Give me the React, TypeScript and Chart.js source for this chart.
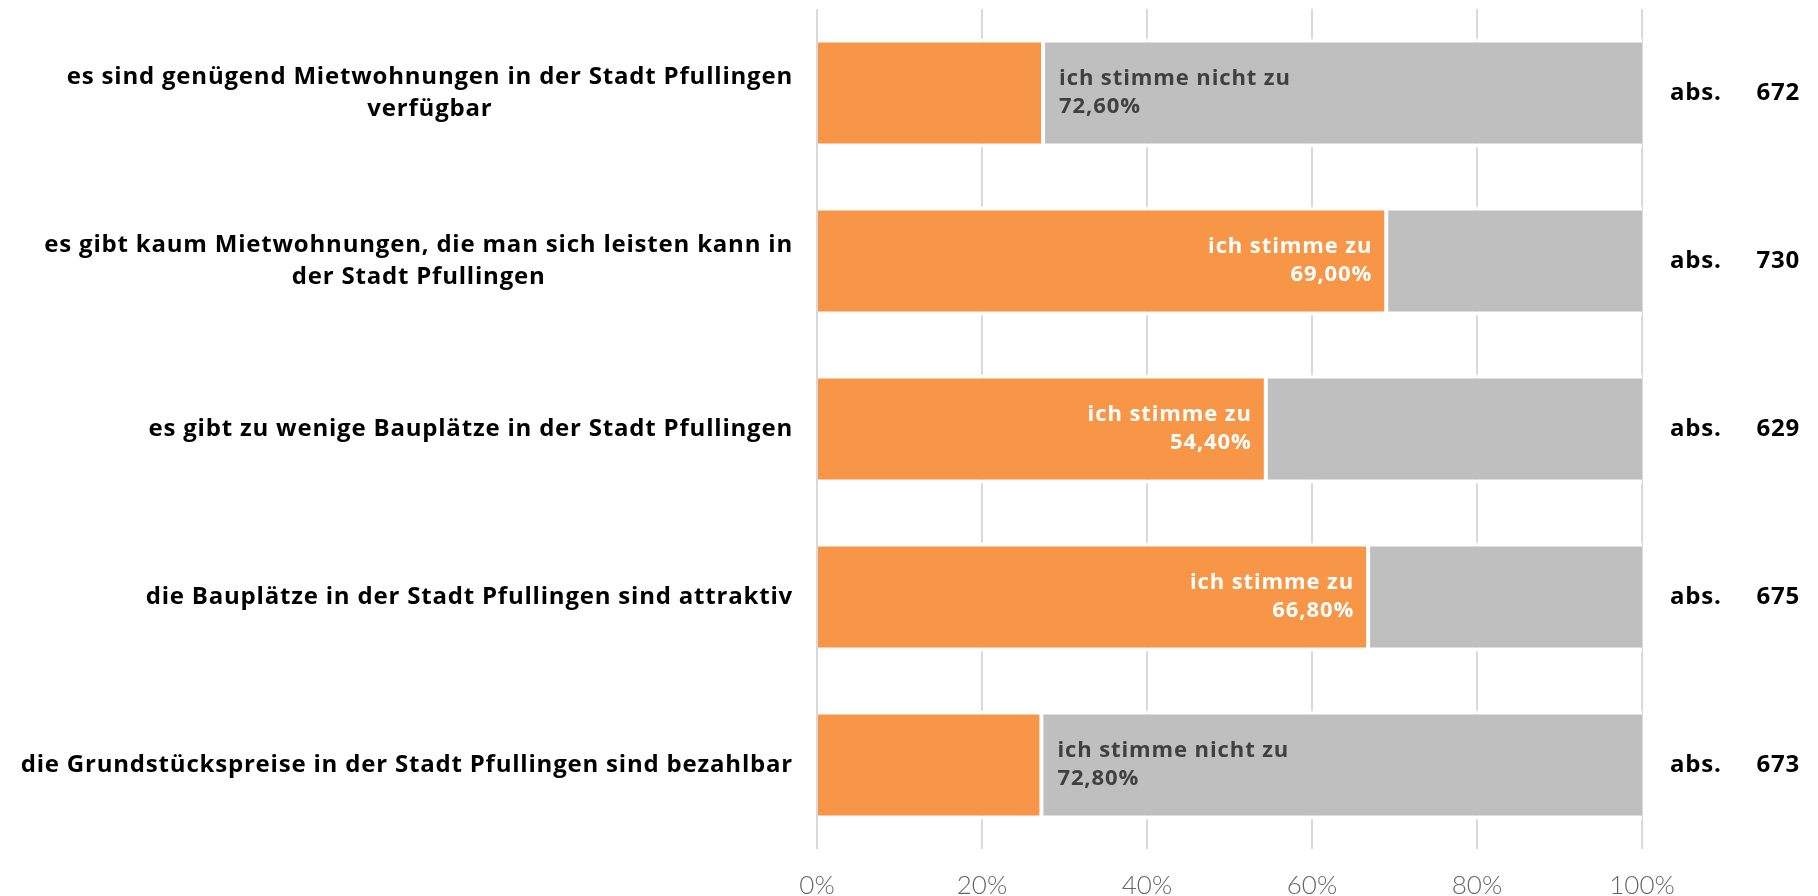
import React, { useEffect, useRef } from "react";
import { Chart, registerables } from "chart.js";

Chart.register(...registerables);

const categories: string[][] = [
  ["es sind genügend Mietwohnungen in der Stadt Pfullingen", "verfügbar"],
  ["es gibt kaum Mietwohnungen, die man sich leisten kann in", "der Stadt Pfullingen"],
  ["es gibt zu wenige Bauplätze in der Stadt Pfullingen"],
  ["die Bauplätze in der Stadt Pfullingen sind attraktiv"],
  ["die Grundstückspreise in der Stadt Pfullingen sind bezahlbar"],
];
const zuValues = [27.4, 69.0, 54.4, 66.8, 27.2];
const nichtZuValues = [72.6, 31.0, 45.6, 33.2, 72.8];
const absValues = [672, 730, 629, 675, 673];
const seriesNames = ["ich stimme zu", "ich stimme nicht zu"];
const xTicks = [0, 20, 40, 60, 80, 100];

const ORANGE = "#F79646";
const GRAY = "#BFBFBF";
const FONT = "'Open Sans', Lato, sans-serif";
const TICK_FONT = "Lato, 'Open Sans', sans-serif";

const fmt = (v: number) => v.toFixed(2).replace(".", ",") + "%";

const overlayPlugin = {
  id: "overlay",
  afterDatasetsDraw(chart: any) {
    const ctx = chart.ctx as any;
    const m0 = chart.getDatasetMeta(0);
    const m1 = chart.getDatasetMeta(1);
    ctx.save();
    // bar labels
    ctx.font = `bold 22px ${FONT}`;
    ctx.letterSpacing = "0.9px";
    ctx.textBaseline = "middle";
    for (let i = 0; i < categories.length; i++) {
      const b0 = m0.data[i];
      const b1 = m1.data[i];
      const cy = b0.y;
      if (zuValues[i] > 50) {
        ctx.fillStyle = "#FFFFFF";
        ctx.textAlign = "right";
        const x = b0.x - 14;
        ctx.fillText(seriesNames[0], x, cy - 14);
        ctx.fillText(fmt(zuValues[i]), x, cy + 14);
      } else {
        ctx.fillStyle = "#404040";
        ctx.textAlign = "left";
        const x = b1.base + 16;
        ctx.fillText(seriesNames[1], x, cy - 14);
        ctx.fillText(fmt(nichtZuValues[i]), x, cy + 14);
      }
    }
    // category labels
    ctx.font = `bold 24px ${FONT}`;
    ctx.letterSpacing = "0.8px";
    ctx.fillStyle = "#000000";
    ctx.textAlign = "center";
    const rightEdge = 793;
    const lh = 32;
    for (let i = 0; i < categories.length; i++) {
      const lines = categories[i];
      const w = Math.max(...lines.map((l) => ctx.measureText(l).width));
      const cx = rightEdge - w / 2;
      const cy = m0.data[i].y;
      const startY = cy - ((lines.length - 1) * lh) / 2;
      lines.forEach((l, k) => ctx.fillText(l, cx, startY + k * lh));
    }
    // abs labels
    for (let i = 0; i < categories.length; i++) {
      const cy = m0.data[i].y;
      ctx.textAlign = "left";
      ctx.fillText("abs.", 1670, cy);
      ctx.textAlign = "right";
      ctx.fillText(String(absValues[i]), 1800, cy);
    }
    ctx.restore();
  },
};

export default function App() {
  const ref = useRef<HTMLCanvasElement>(null);
  useEffect(() => {
    document.body.style.margin = "0";
    const chart = new Chart(ref.current!, {
      type: "bar",
      data: {
        labels: categories.map((c) => c.join(" ")),
        datasets: [
          {
            label: seriesNames[0],
            data: zuValues,
            backgroundColor: ORANGE,
            borderColor: "#FFFFFF",
            borderWidth: { left: 0, right: 2, top: 4, bottom: 4 },
            borderSkipped: false,
            barPercentage: 0.65,
            categoryPercentage: 1,
          },
          {
            label: seriesNames[1],
            data: nichtZuValues,
            backgroundColor: GRAY,
            borderColor: "#FFFFFF",
            borderWidth: { left: 2, right: 0, top: 4, bottom: 4 },
            borderSkipped: false,
            barPercentage: 0.65,
            categoryPercentage: 1,
          },
        ],
      },
      options: {
        indexAxis: "y",
        animation: false,
        responsive: true,
        maintainAspectRatio: false,
        layout: { padding: { top: 9, right: 176, left: 0, bottom: 0 } },
        plugins: { legend: { display: false }, tooltip: { enabled: false } },
        scales: {
          x: {
            stacked: true,
            min: 0,
            max: 100,
            afterBuildTicks: (s: any) => {
              s.ticks = xTicks.map((v) => ({ value: v }));
            },
            afterFit: (s: any) => {
              s.height = 47;
            },
            grid: { color: "#D9D9D9", lineWidth: 2, drawTicks: false },
            border: { display: false },
            ticks: {
              padding: 21,
              color: "#666666",
              font: { family: TICK_FONT, size: 26, weight: 300 },
              callback: (v: any) => v + "%",
            },
          },
          y: {
            stacked: true,
            afterFit: (s: any) => {
              s.width = 817;
            },
            grid: { display: false },
            border: { display: false },
            ticks: { display: false },
          },
        },
      },
      plugins: [overlayPlugin],
    });
    return () => chart.destroy();
  }, []);
  return (
    <div style={{ width: 1818, height: 896, position: "relative" }}>
      <canvas ref={ref} />
    </div>
  );
}
